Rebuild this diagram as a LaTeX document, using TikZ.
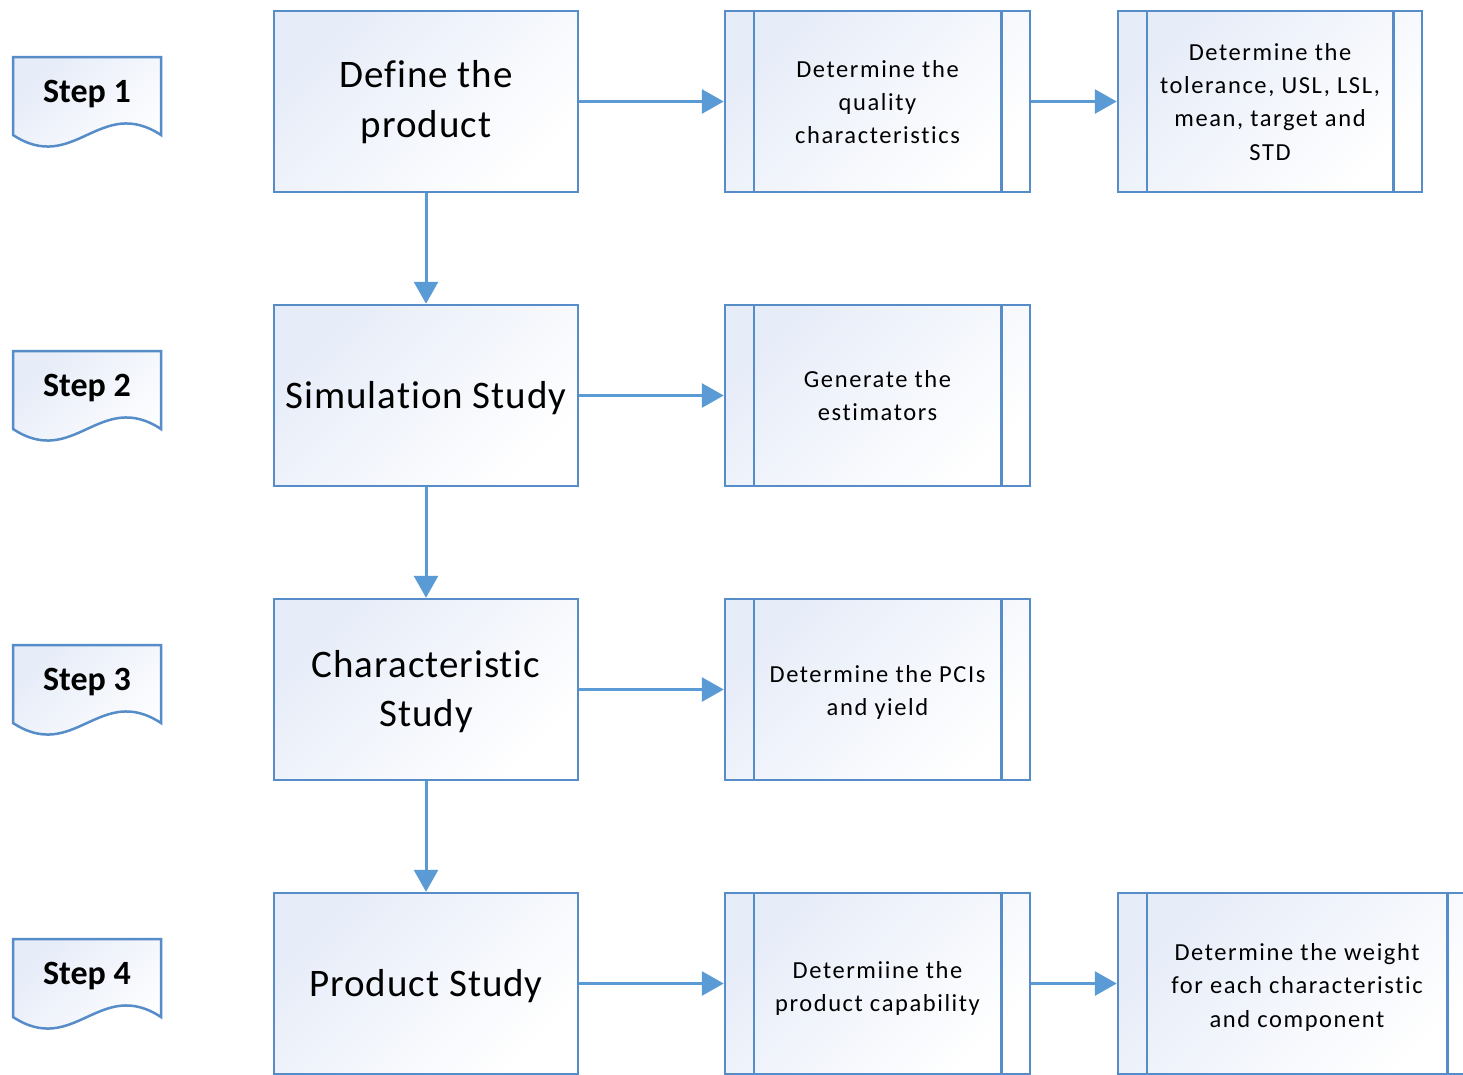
\documentclass[tikz,border=0pt]{standalone}
\usepackage{fontspec}
\setmainfont{Carlito}[Ligatures=NoCommon]
\newfontfamily\bigfont{Carlito}[LetterSpace=2.5,Ligatures=NoCommon]
\newfontfamily\smallfont{Carlito}[LetterSpace=6.5,Ligatures=NoCommon]
\usetikzlibrary{arrows.meta,calc}
\definecolor{bordc}{RGB}{86,140,200}
\definecolor{arrc}{RGB}{91,155,213}
\definecolor{shadec}{RGB}{230,236,248}
\tikzset{
  mainbox/.style={draw=bordc, line width=2.5pt, top color=shadec, bottom color=white, shading angle=45,
    minimum width=304pt, minimum height=181pt, inner sep=0pt},
  procbox/.style={draw=bordc, line width=2.5pt, top color=shadec, bottom color=white, shading angle=45,
    minimum width=305pt, minimum height=181pt, inner sep=0pt},
  maintext/.style={anchor=base, inner sep=0pt, align=center,
    font=\bigfont\fontsize{39}{49.5}\selectfont},
  proctext/.style={anchor=base, inner sep=0pt, align=center,
    font=\smallfont\fontsize{24.5}{33.4}\selectfont},
  innerline/.style={draw=bordc, line width=2.5pt},
  arr/.style={draw=arrc, line width=3pt, -{Triangle[length=22pt,width=24pt]}},
  stepshape/.style={draw=bordc, line width=2.5pt, top color=shadec, bottom color=white, shading angle=45},
  steptext/.style={anchor=base, font=\bfseries\fontsize{34}{40}\selectfont}
}
\begin{document}
\begin{tikzpicture}[x=1pt,y=-1pt]
\useasboundingbox (0,0) rectangle (1463,1074);
\clip (0,0) rectangle (1463,1074);
\fill[white] (0,0) rectangle (1463,1074);

% step shapes
\foreach \i/\dy in {1/0,2/294,3/588,4/882}{
  \shade[stepshape] (13,57+\dy) -- (161,57+\dy) -- (161,135+\dy)
    .. controls (100,95+\dy) and (74,175+\dy) .. (13,135+\dy) -- cycle;
  \node[steptext] (s\i) at (87,102+\dy) {Step \i};
}

% main boxes
\node[mainbox] (a1) at (426,101.5) {};
\node[mainbox] (a2) at (426,395.5) {};
\node[mainbox] (a3) at (426,689.5) {};
\node[mainbox] (a4) at (426,983.5) {};
% text nodes: anchor=base is the baseline of the last line
\node[maintext] (a1t) at (426,137) {Define the\\product};
\node[maintext] (a2t) at (426,408.5) {Simulation Study};
\node[maintext] (a3t) at (426,726.5) {Characteristic\\Study};
\node[maintext] (a4t) at (426,996.5) {Product Study};

% process boxes
\node[procbox] (m1) at (877.5,101.5) {};
\node[procbox] (m2) at (877.5,395.5) {};
\node[procbox] (m3) at (877.5,689.5) {};
\node[procbox] (m4) at (877.5,983.5) {};
\node[procbox, minimum width=304pt] (r1) at (1270,101.5) {};
\node[procbox, minimum width=358pt] (r4) at (1297,983.5) {};

\foreach \n in {m1,m2,m3,m4,r1,r4}{
  \draw[innerline] ($(\n.north west)+(30,0)$) -- ($(\n.south west)+(30,0)$);
  \draw[innerline] ($(\n.north east)+(-30,0)$) -- ($(\n.south east)+(-30,0)$);
}

\node[proctext] (m1t) at (877.5,143.8) {Determine the\\quality\\characteristics};
\node[proctext] (m2t) at (877.5,420.9) {Generate the\\estimators};
\node[proctext] (m3t) at (877.5,715.4) {Determine the PCIs\\and yield};
\node[proctext] (m4t) at (877.5,1011.5) {Determiine the\\product capability};
\node[proctext] (r1t) at (1270,160.2) {Determine the\\tolerance, USL, LSL,\\mean, target and\\STD};
\node[proctext] (r4t) at (1297,1027.3) {Determine the weight\\for each characteristic\\and component};

% connectors
\draw[arr] (a1.east) -- (m1.west);
\draw[arr] (a2.east) -- (m2.west);
\draw[arr] (a3.east) -- (m3.west);
\draw[arr] (a4.east) -- (m4.west);
\draw[arr] (m1.east) -- (r1.west);
\draw[arr] (m4.east) -- (r4.west);
\draw[arr] (a1.south) -- (a2.north);
\draw[arr] (a2.south) -- (a3.north);
\draw[arr] (a3.south) -- (a4.north);
\end{tikzpicture}
\end{document}
